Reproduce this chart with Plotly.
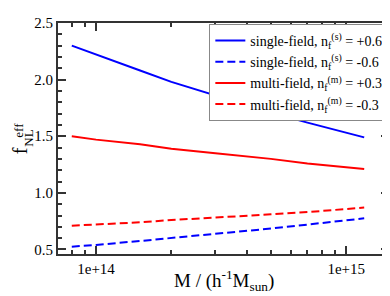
import plotly.graph_objects as go

# ---- data ----
mass = [8e13, 1e14, 1.5e14, 2e14, 3e14, 5e14, 7e14, 1e15, 1.18e15]
single_pos = [2.30, 2.22, 2.08, 1.98, 1.86, 1.71, 1.62, 1.53, 1.49]
single_neg = [0.525, 0.54, 0.575, 0.60, 0.635, 0.685, 0.72, 0.755, 0.775]
multi_pos = [1.50, 1.47, 1.43, 1.39, 1.35, 1.30, 1.26, 1.23, 1.21]
multi_neg = [0.71, 0.72, 0.74, 0.76, 0.78, 0.81, 0.83, 0.86, 0.87]

series_names = [
    "single-field, n<sub>f</sub><sup>(s)</sup> = +0.6",
    "single-field, n<sub>f</sub><sup>(s)</sup> = -0.6",
    "multi-field, n<sub>f</sub><sup>(m)</sup> = +0.3",
    "multi-field, n<sub>f</sub><sup>(m)</sup> = -0.3",
]

x_major = [1e14, 1e15]
x_major_text = ["1e+14", "1e+15"]
x_minor = [8e13, 9e13, 2e14, 3e14, 4e14, 5e14, 6e14, 7e14, 8e14, 9e14]
y_major = [0.5, 1.0, 1.5, 2.0, 2.5]
y_major_text = ["0.5", "1.0", "1.5", "2.0", "2.5"]

FONT = "Liberation Serif"
AX = "#333333"

fig = go.Figure()
styles = [
    ("#0000ff", "solid"),
    ("#0000ff", "8px,4px"),
    ("#ff0000", "solid"),
    ("#ff0000", "8px,4px"),
]
for name, ys, (c, d) in zip(series_names, [single_pos, single_neg, multi_pos, multi_neg], styles):
    fig.add_trace(go.Scatter(x=mass, y=ys, mode="lines", name=name,
                             line=dict(color=c, width=2, dash=d)))

fig.update_layout(
    width=390, height=296,
    margin=dict(l=50, r=7, t=13, b=50),
    paper_bgcolor="white", plot_bgcolor="white",
    font=dict(family=FONT, size=15, color="black"),
    showlegend=True,
    legend=dict(
        x=0.998, y=0.996, xanchor="right", yanchor="top",
        bgcolor="white", bordercolor="#888888", borderwidth=1,
        font=dict(family=FONT, size=14),
        itemwidth=30, tracegroupgap=0,
    ),
    xaxis=dict(
        type="log", range=[13.848, 15.171],
        tickmode="array", tickvals=x_major, ticktext=x_major_text,
        ticks="inside", ticklen=8, tickwidth=1.5, tickcolor=AX,
        showline=True, linecolor=AX, linewidth=2, mirror="allticks",
        showgrid=False, zeroline=False,
        tickfont=dict(family=FONT, size=15),
        minor=dict(tickmode="array", tickvals=x_minor, ticks="inside",
                   ticklen=4, tickwidth=1.5, tickcolor=AX, showgrid=False),
    ),
    yaxis=dict(
        range=[0.46, 2.5],
        tickmode="array", tickvals=y_major, ticktext=y_major_text,
        ticks="inside", ticklen=8, tickwidth=1.5, tickcolor=AX,
        showline=True, linecolor=AX, linewidth=2, mirror="allticks",
        showgrid=False, zeroline=False,
        tickfont=dict(family=FONT, size=15),
        minor=dict(tick0=0, dtick=0.1, ticks="inside",
                   ticklen=4, tickwidth=1.5, tickcolor=AX, showgrid=False),
    ),
)

# axis titles
fig.add_annotation(text="M / (h<sup>-1</sup>M<sub>sun</sub>)", xref="paper", yref="paper",
                   x=0.5, y=-0.18, xanchor="center", yanchor="bottom", showarrow=False,
                   font=dict(family=FONT, size=19))
fig.add_annotation(text="f", xref="paper", yref="paper", x=-0.114, y=0.446,
                   xanchor="center", yanchor="middle", showarrow=False, textangle=-90,
                   font=dict(family=FONT, size=20))
fig.add_annotation(text="eff", xref="paper", yref="paper", x=-0.12, y=0.535,
                   xanchor="center", yanchor="middle", showarrow=False, textangle=-90,
                   font=dict(family=FONT, size=13))
fig.add_annotation(text="NL", xref="paper", yref="paper", x=-0.09, y=0.50,
                   xanchor="center", yanchor="middle", showarrow=False, textangle=-90,
                   font=dict(family=FONT, size=13))

fig.write_html("out.html")
